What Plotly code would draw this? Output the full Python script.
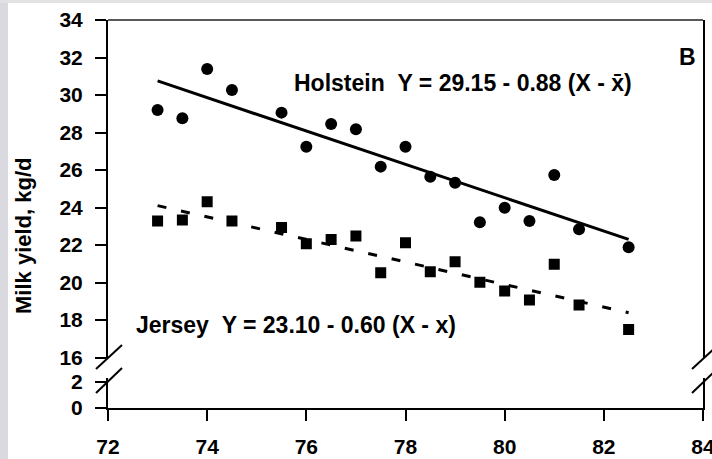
import plotly.graph_objects as go

# ---- data ----
year = [73, 73.5, 74, 74.5, 75.5, 76, 76.5, 77, 77.5, 78, 78.5, 79, 79.5, 80, 80.5, 81, 81.5, 82.5]
holstein = [29.2, 28.76, 31.39, 30.27, 29.06, 27.24, 28.45, 28.17, 26.18, 27.24,
            25.64, 25.32, 23.21, 23.99, 23.28, 25.73, 22.84, 21.88]
jersey = [23.28, 23.33, 24.31, 23.28, 22.94, 22.07, 22.3, 22.48, 20.52, 22.12,
          20.58, 21.11, 20.01, 19.55, 19.07, 20.97, 18.8, 17.5]
fit_x = [73, 82.5]
holstein_fit = [30.75, 22.3]
jersey_fit = [24.1, 18.39]

x_ticks = [72, 74, 76, 78, 80, 82, 84]
y_upper_ticks = [16, 18, 20, 22, 24, 26, 28, 30, 32, 34]
y_lower_ticks = [0, 2]

holstein_label = "Holstein\u00a0\u00a0Y = 29.15 - 0.88 (X - x\u0304)"
jersey_label = "Jersey\u00a0\u00a0Y = 23.10 - 0.60 (X - x)"
y_title = "Milk yield, kg/d"
panel_label = "B"

# ---- layout geometry (pixels) ----
W, H = 712, 459
L, R, T, B = 108, 9, 20, 51
PW, PH = W - L - R, H - T - B


def px(x):
    return (x - L) / PW


def py(y):
    return (H - B - y) / PH


FONT = "Liberation Sans, Arial, sans-serif"
bold = dict(family=FONT, size=21, color="black", weight="bold")

fig = go.Figure()
# empty trace so the lower (broken) y-axis segment forms a subplot with x
fig.add_trace(go.Scatter(x=[], y=[], xaxis="x", yaxis="y", mode="markers",
                         showlegend=False, hoverinfo="skip"))
fig.add_trace(go.Scatter(x=fit_x, y=holstein_fit, mode="lines", yaxis="y2",
                         line=dict(color="black", width=3), showlegend=False))
fig.add_trace(go.Scatter(x=fit_x, y=jersey_fit, mode="lines", yaxis="y2",
                         line=dict(color="black", width=3, dash="9px,15px"), showlegend=False))
fig.add_trace(go.Scatter(x=year, y=holstein, mode="markers", yaxis="y2",
                         marker=dict(symbol="circle", size=12, color="black"), showlegend=False))
fig.add_trace(go.Scatter(x=year, y=jersey, mode="markers", yaxis="y2",
                         marker=dict(symbol="square", size=11, color="black"), showlegend=False))

axis_common = dict(showline=True, linecolor="black", linewidth=2, ticks="outside",
                   ticklen=11, tickwidth=2, tickcolor="black", showgrid=False,
                   zeroline=False, tickfont=bold, automargin=False,
                   ticklabeloverflow="allow")

upper_bottom = py(357.5)
lower_top = py(378)
lower_max = 2 * 30 / 26.5

fig.update_layout(
    width=W, height=H, autosize=False,
    margin=dict(l=L, r=R, t=T, b=B, pad=0),
    paper_bgcolor="white", plot_bgcolor="white",
    xaxis=dict(range=[72, 84], tickvals=x_ticks, anchor="y", ticklabelstandoff=8,
               **axis_common),
    yaxis=dict(domain=[0, lower_top], range=[0, lower_max], tickvals=y_lower_ticks,
               anchor="x", mirror=True, ticklabelstandoff=8, **axis_common),
    yaxis2=dict(domain=[upper_bottom, 1], range=[16, 34], tickvals=y_upper_ticks,
                anchor="x", mirror=True, ticklabelstandoff=8, **axis_common),
)

shapes = []
# grey scan border
shapes.append(dict(type="rect", xref="paper", yref="paper", x0=px(0), x1=px(8), y0=py(H), y1=py(0),
                   fillcolor="#dad9e0", line=dict(width=0), layer="above"))
shapes.append(dict(type="rect", xref="paper", yref="paper", x0=px(0), x1=px(W), y0=py(3), y1=py(0),
                   fillcolor="#e2e2e4", line=dict(width=0), layer="above"))
# top frame line
shapes.append(dict(type="line", xref="paper", yref="paper", x0=0, x1=1, y0=1, y1=1,
                   line=dict(color="#222", width=1.5)))
# axis break marks (left and right)
for x0 in (96, 692):
    for (ya, yb) in ((369, 345), (393, 368)):
        shapes.append(dict(type="line", xref="paper", yref="paper",
                           x0=px(x0), x1=px(x0 + 26), y0=py(ya), y1=py(yb),
                           line=dict(color="black", width=2)))
fig.update_layout(shapes=shapes)

ann_font = dict(family=FONT, size=23, color="black", weight="bold")
fig.add_annotation(text=holstein_label, xref="paper", yref="paper", x=px(292), y=py(83),
                   xanchor="left", yanchor="middle", showarrow=False, font=ann_font)
fig.add_annotation(text=jersey_label, xref="paper", yref="paper", x=px(134), y=py(325),
                   xanchor="left", yanchor="middle", showarrow=False, font=ann_font)
fig.add_annotation(text=panel_label, xref="paper", yref="paper", x=px(687), y=py(57),
                   xanchor="center", yanchor="middle", showarrow=False,
                   font=dict(family=FONT, size=23, color="black", weight="bold"))
fig.add_annotation(text=y_title, xref="paper", yref="paper", x=px(23), y=py(236),
                   xanchor="center", yanchor="middle", textangle=-90, showarrow=False,
                   font=dict(family=FONT, size=22, color="black", weight="bold"))

fig.write_html("out.html", config={"responsive": False, "displayModeBar": False},
               post_script="document.body.style.margin='0';document.body.style.overflow='hidden';")
